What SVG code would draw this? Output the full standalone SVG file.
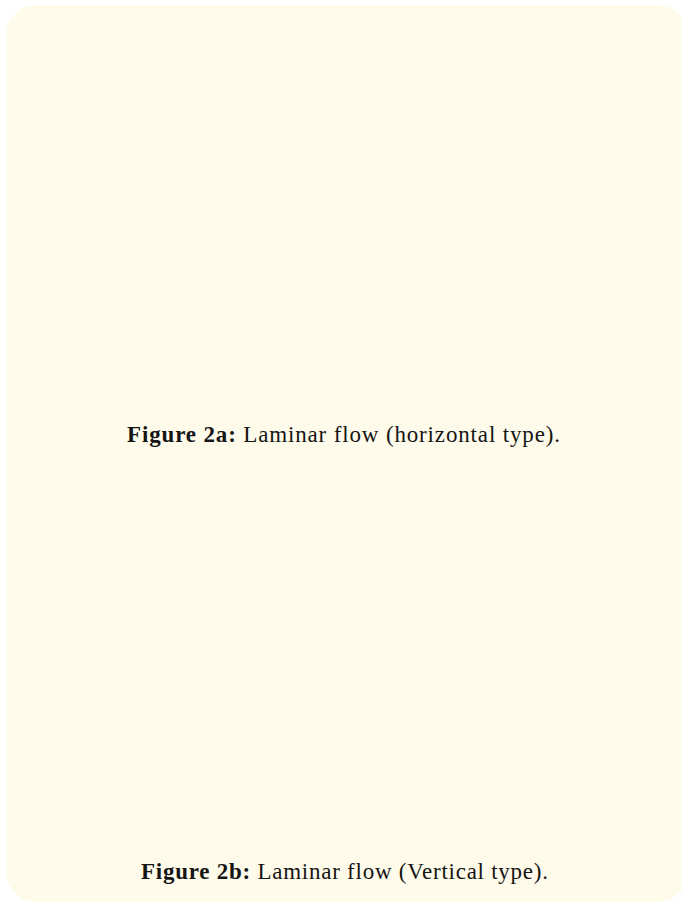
<svg xmlns="http://www.w3.org/2000/svg" width="682" height="902" viewBox="0 0 682 902">
<style>
.cap{font-family:"Liberation Serif","DejaVu Serif",serif;font-size:23px;fill:#151515;}
.b{font-weight:bold;}
</style>
<rect x="0" y="0" width="682" height="902" fill="#ffffff"/>
<g id="panel">
<rect x="6" y="5" width="682" height="897" rx="30" ry="30" fill="#fffbea"/>
</g>
<g id="caption-2a">
<text class="cap" x="127" y="442" textLength="433" lengthAdjust="spacing"><tspan class="b">Figure 2a:</tspan> Laminar flow (horizontal type).</text>
</g>
<g id="caption-2b">
<text class="cap" x="141" y="879" textLength="407" lengthAdjust="spacing"><tspan class="b">Figure 2b:</tspan> Laminar flow (Vertical type).</text>
</g>
</svg>
